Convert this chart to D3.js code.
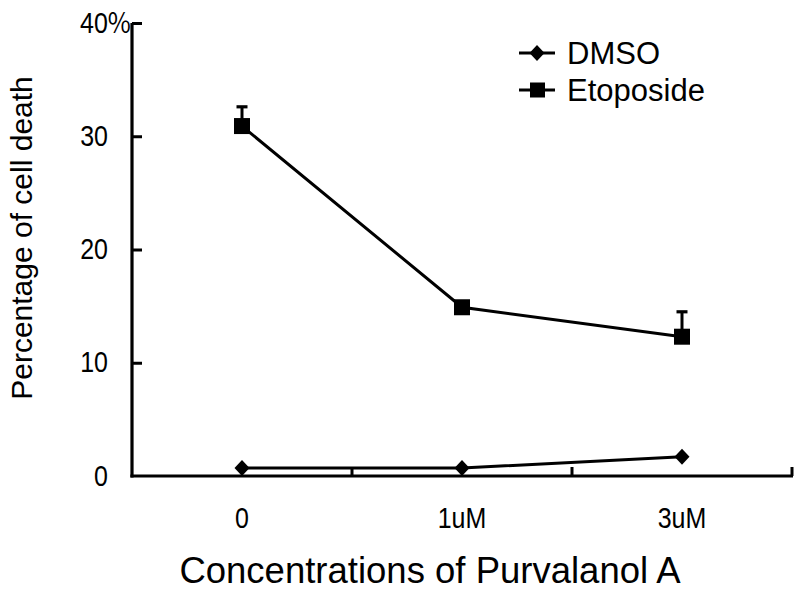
<!DOCTYPE html>
<html><head><meta charset="utf-8">
<script src="https://cdn.jsdelivr.net/npm/d3@7"></script>
<style>body{margin:0;background:#fff}svg{display:block}text{font-family:"Liberation Sans",Arial,sans-serif;fill:#000}</style>
</head><body>
<svg id="c" width="800" height="595"></svg>
<script>
const categories = ["0", "1uM", "3uM"];
const dmso = [0.7, 0.7, 1.7];
const etoposide = [30.9, 14.9, 12.3];
const etoposideErr = [1.7, 0.2, 2.2];
const yTicks = [0, 10, 20, 30, 40];
const seriesNames = ["DMSO", "Etoposide"];

const svg = d3.select("#c");
const x = d3.scaleBand().domain(categories).range([132, 792]).padding(0);
const y = d3.scaleLinear().domain([0, 40]).range([476, 23]);
const cx = c => x(c) + x.bandwidth() / 2;
const SY = 1.15;

// Y axis
const yAxis = d3.axisLeft(y).tickValues(yTicks).tickSizeInner(-10).tickSizeOuter(0).tickPadding(22)
  .tickFormat(d => String(d));
const gy = svg.append("g").attr("transform", "translate(132,0)").call(yAxis);
gy.select(".domain").attr("stroke-width", 3.2).attr("d", `M0,${y(40)}V${y(0) + 1.5}`);
gy.selectAll(".tick line").attr("stroke-width", 3);
gy.selectAll(".tick").filter(d => d === 0).select("line").remove();
gy.selectAll(".tick text").attr("font-size", 25).attr("font-family", "Liberation Sans, Arial, sans-serif")
  .attr("x", -24).attr("transform", `scale(1,${SY})`);
const t40 = gy.selectAll(".tick").filter(d => d === 40).select("text");
t40.attr("text-anchor", "start").attr("x", -52);
t40.append("tspan").attr("font-family", "Noto Sans CJK SC").attr("font-size", 25).text("%");

// X axis
const xAxis = d3.axisBottom(x).tickSize(0).tickPadding(33);
const gx = svg.append("g").attr("transform", `translate(0,${y(0)})`).call(xAxis);
gx.select(".domain").attr("stroke-width", 3.2).attr("d", `M${132 - 1.6},0H${793}`);
gx.selectAll(".tick text").attr("font-size", 25).attr("font-family", "Liberation Sans, Arial, sans-serif")
  .attr("dy", 0).attr("y", 52 / SY).attr("transform", `scale(1,${SY})`);
gx.selectAll(".bnd").data(categories).enter().append("line")
  .attr("x1", c => x(c) + x.bandwidth()).attr("x2", c => x(c) + x.bandwidth())
  .attr("y1", 0).attr("y2", -9).attr("stroke", "#000").attr("stroke-width", 3);

// lines
const line = d3.line().x((d, i) => cx(categories[i])).y(d => y(d));
svg.append("path").datum(dmso).attr("d", line).attr("fill", "none").attr("stroke", "#000").attr("stroke-width", 3);
svg.append("path").datum(etoposide).attr("d", line).attr("fill", "none").attr("stroke", "#000").attr("stroke-width", 3);

// error bars
etoposide.forEach((v, i) => {
  const X = cx(categories[i]);
  svg.append("line").attr("x1", X).attr("x2", X).attr("y1", y(v)).attr("y2", y(v + etoposideErr[i]))
    .attr("stroke", "#000").attr("stroke-width", 3);
  svg.append("line").attr("x1", X - 5.5).attr("x2", X + 5.5).attr("y1", y(v + etoposideErr[i])).attr("y2", y(v + etoposideErr[i]))
    .attr("stroke", "#000").attr("stroke-width", 3.2);
});

const diamond = (X, Y) => `M${X},${Y - 8}L${X + 7.5},${Y}L${X},${Y + 8}L${X - 7.5},${Y}Z`;
svg.selectAll(".dm").data(dmso).enter().append("path")
  .attr("d", (d, i) => diamond(cx(categories[i]), y(d))).attr("fill", "#000");
svg.selectAll(".et").data(etoposide).enter().append("rect")
  .attr("x", (d, i) => cx(categories[i]) - 8).attr("y", d => y(d) - 8)
  .attr("width", 16).attr("height", 16).attr("fill", "#000");

// legend
const lg = svg.append("g");
[53, 90].forEach((ly, k) => {
  lg.append("line").attr("x1", 519).attr("x2", 555).attr("y1", ly).attr("y2", ly).attr("stroke", "#000").attr("stroke-width", 3);
  if (k === 0) lg.append("path").attr("d", diamond(537, ly)).attr("fill", "#000");
  else lg.append("rect").attr("x", 530).attr("y", ly - 7.5).attr("width", 15).attr("height", 15).attr("fill", "#000");
  lg.append("text").attr("x", 567).attr("y", ly + 11).attr("font-size", 31).text(seriesNames[k]);
});

// axis titles
svg.append("text").attr("x", 430).attr("y", 583).attr("text-anchor", "middle").attr("font-size", 36.5)
  .text("Concentrations of Purvalanol A");
svg.append("text").attr("transform", "translate(32,238) rotate(-90)").attr("text-anchor", "middle").attr("font-size", 30)
  .text("Percentage of cell death");
</script>
</body></html>
